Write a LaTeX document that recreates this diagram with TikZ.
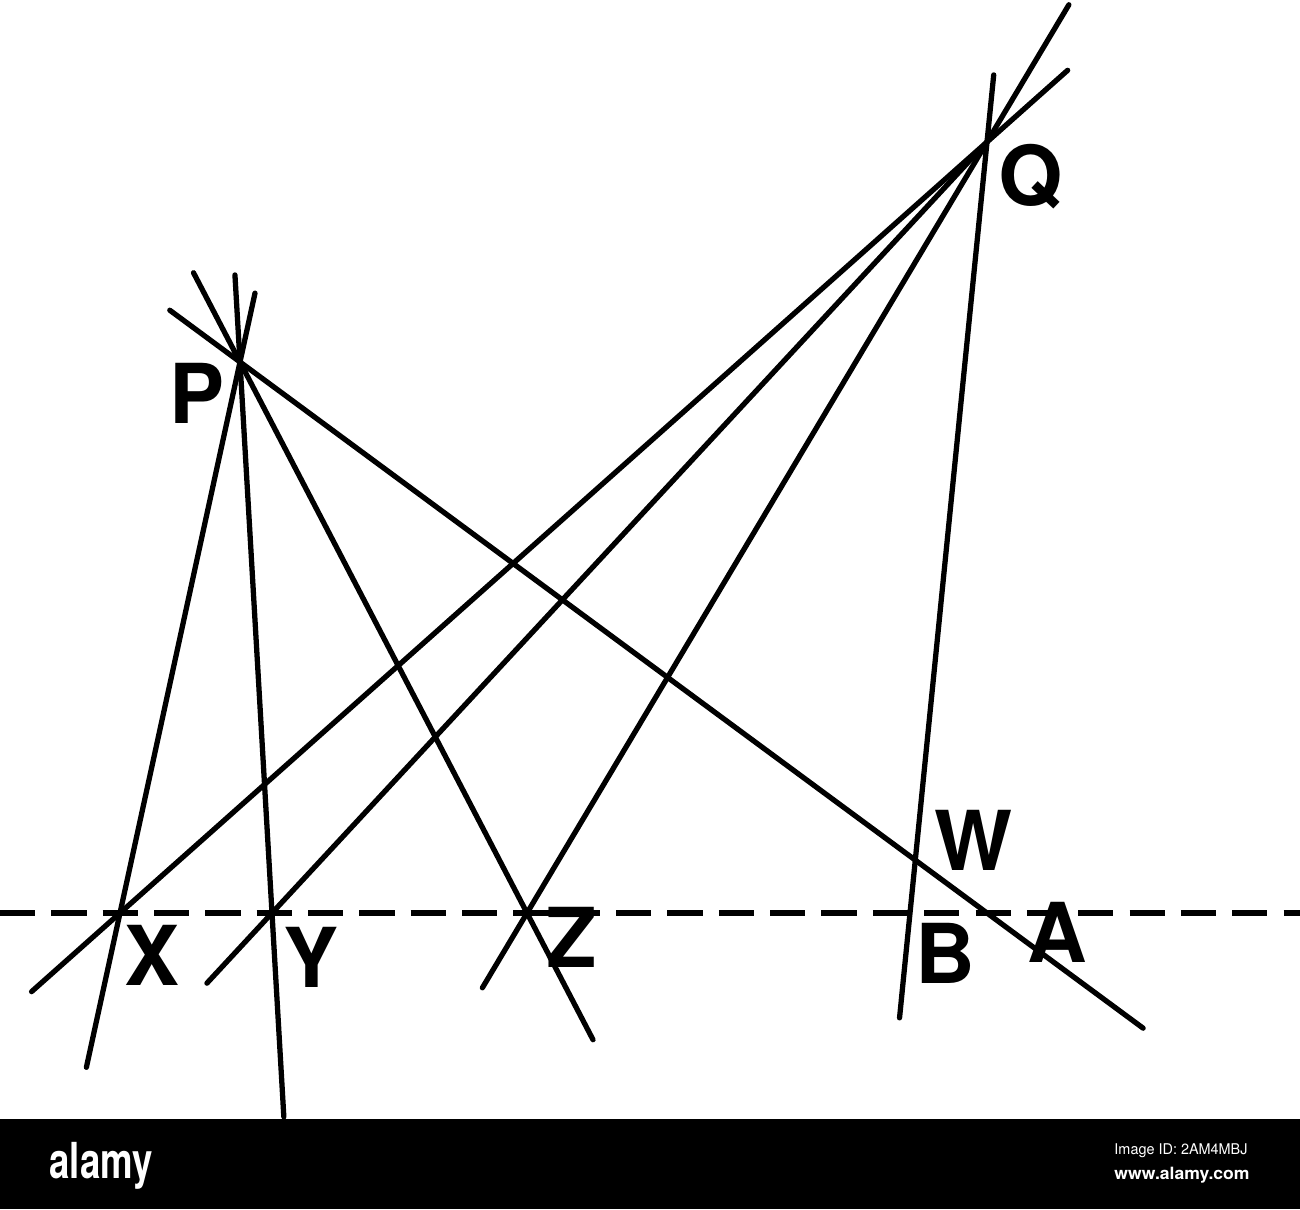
\documentclass[tikz,border=0pt]{standalone}
\usepackage{fontspec}
\usepackage{graphicx}
\setmainfont{TeX Gyre Heros}
\usetikzlibrary{calc}
\begin{document}
\begin{tikzpicture}[x=0.01cm,y=-0.01cm,
  ray/.style={line width=1.5pt,line cap=round},
  baseline line/.style={line width=1.5pt,dash pattern=on 10pt off 4.6pt},
  lab/.style={font=\fontsize{23.5}{24}\selectfont\bfseries,inner sep=0pt,anchor=base},
  wm/.style={text=white,inner sep=0pt}]
\useasboundingbox (0,0) rectangle (1300,1209);
% key points
\coordinate (P) at (240,362);
\coordinate (Q) at (987,142);
\coordinate (X) at (120,913);
\coordinate (Y) at (272,913);
\coordinate (Z) at (527,913);
\coordinate (B) at (910,913);
\coordinate (A) at (987,913);
\coordinate (W) at (916,862);
\coordinate (L) at (0,913);
\coordinate (R) at (1300,913);
% ends of the rays through P
\coordinate (PXa) at ($(P)!-0.125!(X)$);
\coordinate (PXb) at ($(P)!1.28!(X)$);
\coordinate (PYa) at ($(P)!-0.158!(Y)$);
\coordinate (PYb) at ($(P)!1.37!(Y)$);
\coordinate (PZa) at ($(P)!-0.162!(Z)$);
\coordinate (PZb) at ($(P)!1.23!(Z)$);
\coordinate (PAa) at ($(P)!-0.094!(A)$);
\coordinate (PAb) at ($(P)!1.209!(A)$);
% ends of the rays through Q
\coordinate (QXa) at ($(Q)!-0.093!(X)$);
\coordinate (QXb) at ($(Q)!1.102!(X)$);
\coordinate (QYb) at ($(Q)!1.091!(Y)$);
\coordinate (QZa) at ($(Q)!-0.178!(Z)$);
\coordinate (QZb) at ($(Q)!1.097!(Z)$);
\coordinate (QBa) at ($(Q)!-0.087!(B)$);
\coordinate (QBb) at ($(Q)!1.136!(B)$);
% dashed line
\draw[baseline line] (L) -- (R);
% rays
\draw[ray] (PXa) -- (PXb);
\draw[ray] (PYa) -- (PYb);
\draw[ray] (PZa) -- (PZb);
\draw[ray] (PAa) -- (PAb);
\draw[ray] (QXa) -- (QXb);
\draw[ray] (Q) -- (QYb);
\draw[ray] (QZa) -- (QZb);
\draw[ray] (QBa) -- (QBb);
% labels
\node[lab] (lP) at (197,423) {P};
\node[lab] (lQ) at (1031,205) {Q};
\node[lab] (lX) at (152,985) {X};
\node[lab] (lY) at (311,987) {Y};
\node[lab] (lZ) at (572,967) {Z};
\node[lab] (lW) at (973,870) {W};
\node[lab] (lB) at (945,983) {B};
\node[lab] (lA) at (1057,962) {A};
% watermark bar
\fill[black] (0,1119) rectangle (1300,1209);
\node[wm] (alamy) at (101,1166) {\resizebox*{1.03cm}{0.47cm}{\bfseries alamy}};
\node[wm] (imgid) at (1181,1151) {\resizebox*{1.33cm}{0.14cm}{Image ID: 2AM4MBJ}};
\node[wm] (www) at (1182,1175) {\resizebox*{1.35cm}{0.16cm}{\bfseries www.alamy.com}};
\end{tikzpicture}
\end{document}
